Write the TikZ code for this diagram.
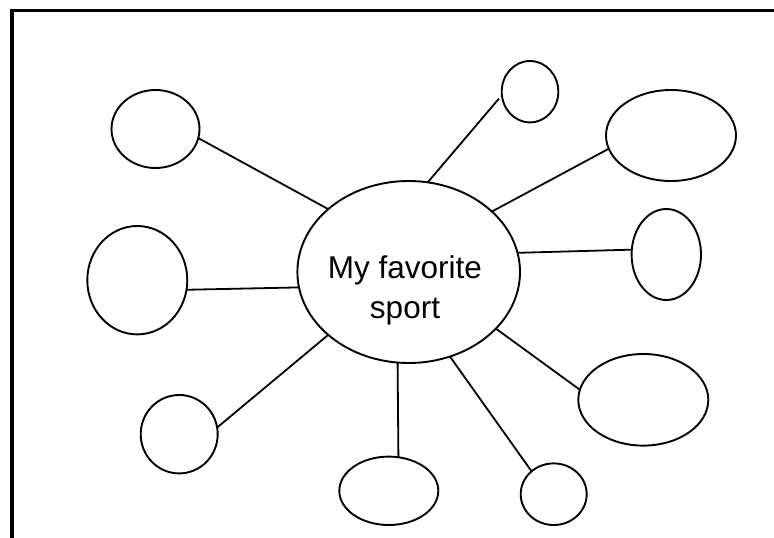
\documentclass[tikz,border=0pt]{standalone}
\usepackage{fontspec}
\setmainfont{Liberation Sans}
\usetikzlibrary{shapes.geometric}
\tikzset{
  bubble/.style={draw, ellipse, line width=1.9pt, inner sep=0pt, outer sep=0pt},
  link/.style={draw, line width=1.8pt},
  frameline/.style={draw, line width=3.3pt, line join=miter},
  hubtext/.style={inner sep=0pt, align=center, font=\fontsize{31.5}{40}\selectfont}
}
\begin{document}
\begin{tikzpicture}[x=1pt, y=-1pt]
  \clip (0,0) rectangle (774,538);
  \fill[white] (0,0) rectangle (774,538);
  \draw[frameline] (12,545) -- (12,10.5) -- (790,10.5);

  % central hub
  \node[bubble, minimum width=222.6pt, minimum height=182pt,
        label={[hubtext, name=hubtxt, xshift=-3.7pt, yshift=-18.1pt]center:{My favorite\\sport}}]
        (C) at (408.7,272) {};

  % satellites
  \node[bubble, minimum width=88pt,  minimum height=78pt]   (TL) at (155.5,129) {};
  \node[bubble, minimum width=56.6pt, minimum height=61.4pt] (T)  at (530,91.7) {};
  \node[bubble, minimum width=130pt, minimum height=91pt]   (TR) at (671,135.5) {};
  \node[bubble, minimum width=100pt, minimum height=108.4pt] (L) at (137.3,280.2) {};
  \node[bubble, minimum width=69.4pt, minimum height=91pt]  (R)  at (666.3,254.5) {};
  \node[bubble, minimum width=77pt,  minimum height=78.4pt] (LL) at (179.2,434.2) {};
  \node[bubble, minimum width=130pt, minimum height=91.6pt] (RL) at (643.3,399.8) {};
  \node[bubble, minimum width=99pt,  minimum height=68.4pt] (B)  at (388.8,490.8) {};
  \node[bubble, minimum width=66pt,  minimum height=61.6pt] (BS) at (553.7,494.2) {};

  % connectors
  \draw[link] (C.142.9) -- (TL.-12);
  \draw[link, shorten >=4.5pt] (C.78.7) -- (T.187);
  \draw[link] (C.36.4) -- (TR.192.1);
  \draw[link] (C.188.6) -- (L.-11);
  \draw[link] (C.10) -- (R.172.1);
  \draw[link] (C.218.1) -- (LL.10.2);
  \draw[link] (C.-33.4) -- (RL.171.7);
  \draw[link] (C.263.5) -- (B.74.4);
  \draw[link] (C.-64) -- (BS.134.4);
\end{tikzpicture}
\end{document}
